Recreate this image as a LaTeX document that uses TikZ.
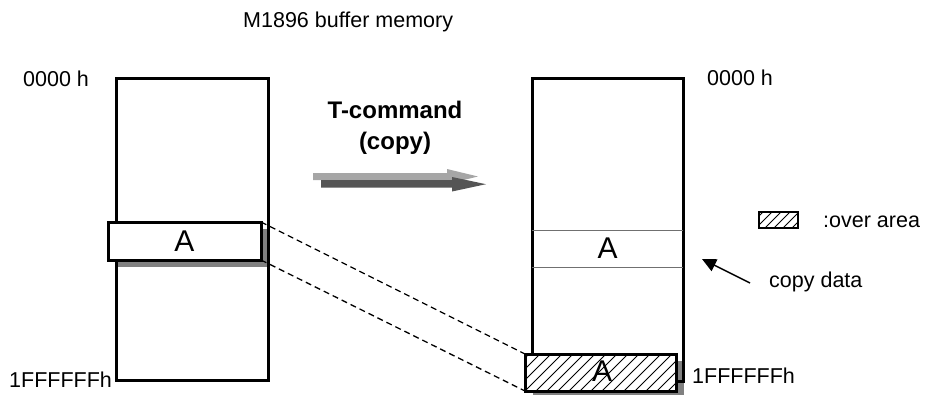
\documentclass[tikz,border=0pt]{standalone}
\usepackage{fontspec}
\setmainfont{Liberation Sans}
\usetikzlibrary{arrows.meta}
\definecolor{shadowgray}{HTML}{808080}
\definecolor{lightarrow}{HTML}{A6A6A6}
\definecolor{darkarrow}{HTML}{555555}
\definecolor{thinline}{HTML}{707070}
\tikzset{
  lbl/.style={font=\fontsize{21.5}{24}\selectfont, inner sep=0pt, anchor=west},
  bold/.style={font=\bfseries\fontsize{24}{27}\selectfont, inner sep=0pt},
  bigA/.style={font=\fontsize{30}{33}\selectfont, inner sep=0pt},
  memcol/.style={draw, line width=3pt, inner sep=0pt, outer sep=0pt, anchor=north west},
  blockbox/.style={draw, line width=3pt, fill=white, inner sep=0pt, outer sep=0pt, anchor=north west},
  boxframe/.style={draw, line width=3pt, inner sep=0pt, outer sep=0pt, anchor=north west},
  shadowbox/.style={fill=shadowgray, inner sep=0pt, outer sep=0pt, anchor=north west},
  dashlink/.style={line width=1.3pt, dash pattern=on 6pt off 4pt},
  hatch/.style={line width=0.9pt},
}
\begin{document}
\begin{tikzpicture}[x=1pt,y=-1pt]
\useasboundingbox (0,0) rectangle (925,394);

% title
\node[lbl] (title) at (243,22) {M1896 buffer memory};

% ---------- left column ----------
\node[shadowbox, minimum width=153pt, minimum height=38pt] (lAsh) at (116,229) {};
\node[memcol, minimum width=152pt, minimum height=302pt] (lcol) at (116,78) {};
\node[blockbox, minimum width=153pt, minimum height=38pt] (lA) at (108,222) {};
\node[bigA] (lAtext) at (lA.center) {A};
\node[lbl] (l0) at (23,79) {0000 h};
\node[lbl] (l1) at (9,379.5) {1FFFFFFh};

% ---------- T-command arrows ----------
\node[bold] (tcmd) at (395,110) {T-command};
\node[bold] (tcopy) at (395,143) {(copy)};
\fill[lightarrow] (313,173) -- (447,173) -- (447,169) -- (478,176.5) -- (447,184) -- (447,180) -- (313,180) -- cycle;
\fill[darkarrow] (321,180) -- (452,180) -- (452,177) -- (486,184.2) -- (452,191.5) -- (452,187.5) -- (321,187.5) -- cycle;

% ---------- right column ----------
\node[shadowbox, minimum width=151pt, minimum height=37pt] (rBsh) at (533,361) {};
\node[memcol, minimum width=151pt, minimum height=303pt] (rcol) at (532,78) {};
\draw[thinline, line width=0.9pt] (532,230) -- (683,230);
\draw[thinline, line width=0.9pt] (532,267) -- (683,267);
\node[bigA] (rAtext) at (607.5,248.5) {A};
\node[lbl] (r0) at (707,78) {0000 h};
\node[lbl] (r1) at (692,376) {1FFFFFFh};

% bottom box (hatched)
\node[blockbox, minimum width=151pt, minimum height=37pt] (rB) at (525,354) {};
\begin{scope}
  \clip (rB.south west) rectangle (rB.north east);
  \foreach \i in {-44,-33,...,160} {
    \draw[hatch] (525+\i,391) -- ++(40,-40);
  }
\end{scope}
\node[boxframe, minimum width=151pt, minimum height=37pt] (rBframe) at (525,354) {};
\node[bigA] (rBtext) at (602,371) {A};

% dashed links
\draw[dashlink] (lA.north east) -- (rB.north west);
\draw[dashlink] (lA.south east) -- (rB.south west);

% ---------- legend ----------
\node[draw, line width=1.3pt, inner sep=0pt, outer sep=0pt, anchor=north west, minimum width=39pt, minimum height=16pt] (leg) at (759,212) {};
\begin{scope}
  \clip (leg.south west) rectangle (leg.north east);
  \foreach \i in {-12,-3,...,45} {
    \draw[line width=0.8pt] (759+\i,228) -- ++(17,-17);
  }
\end{scope}
\node[lbl] (legtext) at (823,222) {:over area};

% copy data arrow
\node[lbl] (cd) at (769,282) {copy data};
\coordinate (cdtail) at (750,283);
\coordinate (cdtip) at (702,259);
\draw[line width=1.5pt, -{Triangle[length=14pt,width=13pt]}] (cdtail) -- (cdtip);
\end{tikzpicture}
\end{document}
